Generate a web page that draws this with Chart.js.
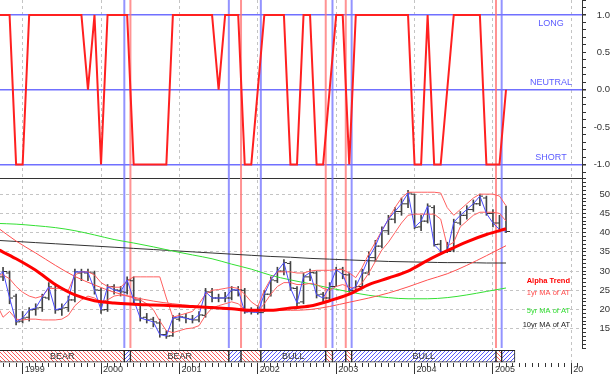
<!DOCTYPE html>
<html><head><meta charset="utf-8">
<script src="https://cdn.jsdelivr.net/npm/chart.js@4"></script>
<style>html,body{margin:0;padding:0;background:#fff}</style>
</head><body>
<canvas id="c" width="610" height="374"></canvas>
<script>
// ---------- DATA (monthly, first month below) ----------
const FIRST_MONTH = '1998-09';
const signal = [
  1, 1, 1, -1,
  -1, 1, 1, 1, 1, 1, 1, 1, 1, 1, 0, 1,
  -1, 1, 1, 1, 1, -1, -1, -1, -1, -1, -1, 1,
  1, 1, 1, 1, 1, 1, 0, 1, 1, 1, -1, -1,
  0, 1, 1, 1, 1, -1, -1, 1, 1, -1, -1, 0,
  1, 1, -1, 1, 1, 1, 1, 1, 1, 1, 1, 1,
  -1, -1, 1, -1, -1, 0, 1, 1, 1, 1, 1, -1,
  -1, -1, 0];
const closes = [
  28.3, 29.9, 23.0, 16.8,
  17.8, 19.9, 20.4, 23.2, 25.9, 19.9, 20.4, 22.5, 29.8, 29.8, 29.7, 25.1,
  19.9, 25.9, 25.1, 24.6, 27.7, 22.5, 17.8, 17.3, 16.8, 13.5, 13.1, 17.8,
  18.1, 17.7, 17.3, 18.6, 24.6, 23.0, 23.0, 23.0, 25.1, 25.1, 19.4, 19.4,
  19.2, 24.0, 27.7, 30.0, 32.2, 25.6, 21.7, 28.5, 29.6, 23.8, 23.0, 26.0,
  30.4, 29.1, 25.0, 26.0, 29.5, 33.5, 36.5, 40.5, 43.5, 45.5, 47.5, 50.3,
  41.4, 43.0, 46.9, 36.9, 35.1, 35.1, 42.7, 44.5, 46.0, 47.5, 49.5, 45.0,
  42.5, 40.8, 40.3];
const opens = [
  27.5, 28.5, 29.5, 23.5,
  17.0, 18.0, 20.0, 20.5, 23.0, 25.5, 20.0, 20.5, 22.5, 29.5, 29.5, 29.5,
  25.0, 20.0, 26.0, 25.0, 24.5, 27.5, 22.5, 18.0, 17.5, 16.5, 13.5, 13.2,
  17.5, 18.0, 17.5, 17.3, 18.5, 24.5, 23.0, 23.0, 23.0, 25.0, 25.0, 19.5,
  19.5, 19.2, 24.0, 27.5, 30.0, 32.0, 25.5, 22.0, 28.5, 29.5, 24.0, 23.0,
  26.0, 30.5, 29.0, 25.0, 26.0, 29.5, 33.5, 36.5, 40.5, 43.5, 45.5, 47.5,
  50.0, 41.5, 43.0, 46.5, 37.0, 35.0, 35.5, 42.5, 44.5, 46.0, 47.5, 49.0,
  45.0, 42.5, 41.0];
const highs = [
  30.5, 31.0, 30.0, 24.0,
  19.5, 20.5, 21.5, 24.0, 27.0, 26.5, 21.5, 23.5, 30.5, 30.5, 30.5, 30.0,
  25.5, 26.5, 26.5, 26.0, 28.5, 28.5, 23.0, 19.0, 18.0, 17.5, 14.5, 18.5,
  19.0, 19.0, 18.5, 19.5, 25.5, 25.5, 24.0, 24.5, 26.0, 26.0, 25.5, 20.5,
  21.0, 25.0, 28.5, 31.0, 33.0, 32.5, 26.0, 29.5, 30.5, 30.0, 24.5, 27.0,
  31.0, 31.0, 29.5, 27.5, 30.5, 35.0, 38.0, 41.5, 44.5, 46.5, 49.0, 51.0,
  50.0, 44.5, 47.5, 47.0, 38.0, 37.5, 43.5, 45.5, 47.0, 48.5, 50.0, 49.5,
  46.0, 44.5, 46.9];
const lows = [
  26.0, 27.5, 21.5, 16.0,
  16.5, 17.0, 18.5, 19.5, 22.5, 19.0, 18.5, 19.5, 22.0, 27.5, 27.5, 24.0,
  19.0, 19.5, 24.0, 23.5, 24.0, 21.5, 17.0, 16.5, 15.5, 12.8, 12.5, 13.0,
  17.0, 16.5, 16.5, 16.8, 18.0, 22.0, 22.0, 22.0, 22.5, 23.5, 19.0, 18.8,
  18.8, 19.5, 23.5, 27.0, 29.0, 25.0, 21.0, 21.5, 27.5, 23.0, 22.0, 22.5,
  26.0, 28.0, 24.5, 24.5, 26.0, 29.0, 32.5, 36.0, 39.5, 42.5, 44.5, 46.5,
  41.0, 40.5, 42.5, 36.5, 34.5, 34.8, 35.0, 42.0, 43.5, 45.5, 47.0, 44.5,
  41.5, 40.3, 40.0];
const upperBand = [
  29.0, 29.0, 28.0, 26.0,
  24.5, 23.5, 23.0, 23.5, 25.5, 25.5, 25.5, 25.0, 29.0, 29.8, 29.8, 29.0,
  27.0, 26.0, 25.8, 25.8, 27.5, 28.5, 28.5, 28.5, 28.5, 28.5, 23.0, 18.0,
  18.5, 19.0, 19.5, 21.5, 24.0, 25.0, 25.2, 25.5, 25.8, 25.5, 24.0, 22.0,
  20.8, 25.0, 28.0, 29.8, 29.8, 29.8, 29.5, 29.5, 30.0, 30.2, 30.2, 30.2,
  30.4, 30.4, 29.5, 28.3, 31.0, 34.5, 37.5, 40.5, 43.5, 46.5, 49.0, 50.5,
  50.5, 50.5, 50.5, 50.5, 50.3, 46.5, 44.5, 46.0, 47.5, 49.0, 50.0, 50.0,
  50.0, 49.5, 47.0];
const lowerBand = [
  21.5, 18.0, 19.5, 17.5,
  17.3, 17.5, 17.5, 17.3, 17.3, 17.3, 17.5, 18.5, 21.0, 22.5, 23.5, 23.0,
  22.0, 22.5, 23.5, 23.8, 23.5, 23.0, 22.5, 21.5, 20.0, 17.0, 14.5, 14.0,
  14.5, 15.0, 15.2, 15.8, 18.5, 20.4, 21.0, 21.5, 22.0, 21.5, 20.0, 19.5,
  19.5, 21.5, 24.0, 26.0, 27.0, 27.0, 26.5, 26.5, 26.8, 26.5, 25.5, 25.0,
  26.0, 26.5, 25.8, 25.5, 27.0, 29.5, 32.5, 35.5, 37.5, 40.0, 42.5, 44.5,
  44.8, 44.8, 44.8, 44.8, 43.5, 36.5, 37.5, 41.5, 43.0, 44.5, 45.3, 45.3,
  45.3, 45.0, 43.0];
// quarterly samples of the smooth averages
const maMonths = ['1998-09','1998-12','1999-03','1999-06','1999-09','1999-12','2000-03','2000-06','2000-09',
  '2000-12','2001-03','2001-06','2001-09','2001-12','2002-03','2002-06','2002-09','2002-12','2003-03',
  '2003-06','2003-09','2003-12','2004-03','2004-06','2004-09','2004-12','2005-03'];
const alphaTrend = [35.8, 33.2, 30.2, 26.5, 23.8, 22.3, 21.7, 21.4, 21.2, 21.0, 20.8, 20.5, 20.2, 19.8,
  19.8, 20.4, 20.9, 22.3, 24.0, 26.5, 28.2, 30.0, 32.8, 35.3, 37.6, 39.5, 41.0];
const ma1yr = [41.5, 37.8, 34.7, 31.5, 28.6, 26.4, 24.5, 23.2, 22.2, 21.5, 21.0, 20.6, 20.3, 20.0,
  19.8, 19.8, 20.0, 20.8, 21.9, 23.0, 24.3, 25.9, 27.7, 29.3, 31.5, 34.0, 36.6];
const ma5yr = [42.4, 42.2, 41.8, 41.3, 40.5, 39.4, 38.2, 37.3, 36.3, 35.2, 34.2, 33.2, 31.8, 30.5,
  28.9, 27.7, 26.7, 25.6, 24.6, 23.7, 23.1, 22.8, 22.8, 23.1, 23.8, 24.7, 25.6];
const ma10yr = [38.0, 37.7, 37.4, 37.1, 36.8, 36.5, 36.2, 35.9, 35.6, 35.3, 35.0, 34.7, 34.4, 34.1,
  33.8, 33.6, 33.3, 33.1, 32.9, 32.7, 32.5, 32.4, 32.3, 32.2, 32.2, 32.1, 32.1];
// regime changes
const regimeStart = '1998-09-01';
const regimeStartType = 'BEAR';
const regimeDates = ['2000-04-18','2000-05-16','2001-08-18','2001-10-14','2002-01-15','2002-11-13',
  '2002-12-14','2003-02-15','2003-03-12','2005-01-15','2005-02-11'];
const regimeTypes = ['BULL','BEAR','BULL','BEAR','BULL','BEAR','BULL','BEAR','BULL','BEAR','BULL'];
const regimeEnd = '2005-04-12';
// axis texts
const yearLabels = ['1999','2000','2001','2002','2003','2004','2005','20'];
const levelValues = [1, 0, -1];
const levelNames = ['LONG','NEUTRAL','SHORT'];
const legendNames = ['Alpha Trend','1yr MA of AT','5yr MA of AT','10yr MA of AT'];
const X_RANGE = ['1998-09-17','2006-02-20'];
const SIG_RANGE = [-1.18, 1.2];
const PRICE_RANGE = [10, 54.2];

// ---------- helpers ----------
function monthIndex(s){ const p = s.split('-').map(Number); return (p[0]-1999)*12 + (p[1]-1) + (p[2] ? (p[2]-1)/30 : 0); }
const m0 = monthIndex(FIRST_MONTH);
const mx = i => m0 + i;
const FONT = "'Liberation Sans', Arial, sans-serif";
const ctx0 = document.getElementById('c').getContext('2d');

function hatch(color, dir){
  const c = document.createElement('canvas'); c.width = 4; c.height = 4;
  const g = c.getContext('2d'); g.fillStyle = '#fff'; g.fillRect(0,0,4,4);
  g.strokeStyle = color; g.lineWidth = 1; g.beginPath();
  if (dir > 0) { g.moveTo(-1,5); g.lineTo(5,-1); } else { g.moveTo(-1,-1); g.lineTo(5,5); }
  g.stroke(); return ctx0.createPattern(c,'repeat');
}
const bearPat = hatch('#ff5a5a', -1), bullPat = hatch('#5a5aff', 1);
function tickImg(side){
  const c = document.createElement('canvas'); c.width = 7; c.height = 3;
  const g = c.getContext('2d'); g.fillStyle = '#333';
  if (side < 0) g.fillRect(0,1,3,1); else g.fillRect(4,1,3,1); return c;
}

// regime segments
const segs = [];
{ let s = monthIndex(regimeStart), t = regimeStartType;
  regimeDates.forEach((d,i) => { const e = monthIndex(d); segs.push({a:s,b:e,t}); s = e; t = regimeTypes[i]; });
  segs.push({a:s,b:monthIndex(regimeEnd),t}); }

function vlines(type, lo, hi){
  const pts = [];
  regimeDates.forEach((d,i) => { if (regimeTypes[i] === type) { const m = monthIndex(d); pts.push({x:m,y:lo},{x:m,y:hi},{x:m,y:null}); } });
  return pts;
}
const monthly = arr => arr.map((v,i) => ({x: mx(i), y: v}));
const quarterly = arr => arr.map((v,i) => ({x: monthIndex(maMonths[i]), y: v}));

const line = (o) => Object.assign({type:'line', pointRadius:0, borderWidth:1, tension:0, fill:false, xAxisID:'x'}, o);

const datasets = [
  line({data: vlines('BULL', SIG_RANGE[0], SIG_RANGE[1]), yAxisID:'ySig', borderColor:'rgba(120,120,255,0.8)', borderWidth:2, order:30}),
  line({data: vlines('BEAR', SIG_RANGE[0], SIG_RANGE[1]), yAxisID:'ySig', borderColor:'rgba(255,120,120,0.8)', borderWidth:2, order:30}),
  line({data: vlines('BULL', PRICE_RANGE[0], PRICE_RANGE[1]), yAxisID:'yPrice', borderColor:'rgba(120,120,255,0.8)', borderWidth:2, order:30}),
  line({data: vlines('BEAR', PRICE_RANGE[0], PRICE_RANGE[1]), yAxisID:'yPrice', borderColor:'rgba(255,120,120,0.8)', borderWidth:2, order:30}),
  line({data: monthly(signal), yAxisID:'ySig', borderColor:'#ff2020', borderWidth:2, order:1}),
  {type:'bar', data: closes.map((_,i) => ({x: mx(i), y: [lows[i], highs[i]]})), xAxisID:'x', yAxisID:'yPrice',
    backgroundColor:'#444', barThickness:1, grouped:false, order:12},
  line({data: monthly(opens), yAxisID:'yPrice', showLine:false, pointRadius:3, pointStyle: tickImg(-1), order:11}),
  line({data: monthly(closes), yAxisID:'yPrice', showLine:false, pointRadius:3, pointStyle: tickImg(1), order:11}),
  line({data: quarterly(ma10yr), yAxisID:'yPrice', borderColor:'#333', cubicInterpolationMode:'monotone', order:9}),
  line({data: quarterly(ma5yr), yAxisID:'yPrice', borderColor:'#33e033', cubicInterpolationMode:'monotone', order:8}),
  line({data: quarterly(ma1yr), yAxisID:'yPrice', borderColor:'#ff5050', cubicInterpolationMode:'monotone', order:7}),
  line({data: monthly(upperBand), yAxisID:'yPrice', borderColor:'#ff6060', order:6}),
  line({data: monthly(lowerBand), yAxisID:'yPrice', borderColor:'#ff6060', order:6}),
  line({data: monthly(closes), yAxisID:'yPrice', borderColor:'#4a4aff', order:5}),
  line({data: quarterly(alphaTrend), yAxisID:'yPrice', borderColor:'#ff0000', borderWidth:3, cubicInterpolationMode:'monotone', order:4}),
  {type:'bar', indexAxis:'y', xAxisID:'x', yAxisID:'yBand',
    data: segs.map(s => ({x:[s.a, s.b], y:0.4})),
    backgroundColor: segs.map(s => s.t === 'BULL' ? bullPat : bearPat),
    borderColor:'#222', borderWidth:1, borderSkipped:false, barThickness:12, grouped:false, order:20}
];

const isInt = v => Math.abs(v - Math.round(v)) < 1e-6;
const noPad = s => { s.paddingTop = 0; s.paddingBottom = 0; s.paddingLeft = 0; s.paddingRight = 0; };

const textPlugin = {
  id:'texts',
  afterDatasetsDraw(chart){
    const {ctx, chartArea, scales:{x, ySig, yPrice, yBand}} = chart;
    ctx.save();
    // level names
    ctx.font = '9px ' + FONT; ctx.fillStyle = '#5c5cff'; ctx.textAlign = 'center';
    levelValues.forEach((v,i) => {
      const py = ySig.getPixelForValue(v);
      if (v === Math.max(...levelValues)) { ctx.textBaseline = 'top'; ctx.fillText(levelNames[i], chartArea.right - 31, py + 4); }
      else { ctx.textBaseline = 'bottom'; ctx.fillText(levelNames[i], chartArea.right - 31, py - 3); }
    });
    // legend
    const cols = ['#ff0000','#ff4a4a','#33dd33','#222'];
    const offs = [103, 115, 133, 147];
    ctx.textAlign = 'right'; ctx.textBaseline = 'middle';
    legendNames.forEach((n,i) => {
      ctx.font = (i === 0 ? 'bold ' : '') + '7.5px ' + FONT; ctx.fillStyle = cols[i];
      ctx.fillText(n, chartArea.right - 12, yPrice.top + offs[i]);
    });
    // band names
    ctx.font = '9px ' + FONT; ctx.fillStyle = '#333'; ctx.textAlign = 'center';
    const by = yBand.getPixelForValue(0.4);
    segs.forEach(s => {
      const a = x.getPixelForValue(s.a), b = x.getPixelForValue(s.b);
      const aa = Math.max(a, chartArea.left);
      if (b - aa > 40) ctx.fillText(s.t, (aa + b) / 2, by + 0.5);
    });
    ctx.restore();
  }
};

new Chart(ctx0, {
  type:'line',
  data:{datasets},
  options:{
    responsive:false, animation:false, events:[],
    layout:{padding:0, autoPadding:false},
    plugins:{legend:{display:false}, tooltip:{enabled:false}},
    scales:{
      x:{type:'linear', position:'bottom', min: monthIndex(X_RANGE[0]), max: monthIndex(X_RANGE[1]), offset:false,
        afterBuildTicks: s => { const t = []; for (let m = Math.ceil(s.min); m <= s.max; m++) t.push({value:m}); s.ticks = t; },
        afterFit: s => { s.height = 11; noPad(s); },
        border:{display:false, dash:[3,3]},
        grid:{offset:false, drawOnChartArea:true, tickLength:12,
          color: c => (c.tick && isInt(c.tick.value/12)) ? '#c4c4c4' : 'rgba(0,0,0,0)',
          tickColor:'#333', tickWidth:1,
          tickBorderDash: c => (c.tick && isInt(c.tick.value/12)) ? [] : [4, 30]},
        ticks:{autoSkip:false, maxRotation:0, align:'start', labelOffset:2, padding:-11,
          font:{size:9, family:FONT}, color:'#333',
          callback: v => isInt(v/12) ? (yearLabels[Math.round(v/12)] ?? '') : ''}
      },
      ySig:{type:'linear', position:'right', stack:'p', stackWeight:178, min:SIG_RANGE[0], max:SIG_RANGE[1],
        afterBuildTicks: s => { const t = [{value:SIG_RANGE[0]}]; for (let k = -11; k <= 12; k++) t.push({value:k/10}); s.ticks = t; },
        afterFit: s => { s.width = 28; noPad(s); },
        border:{display:true, color:'#333'},
        grid:{tickLength:4, tickColor:'#333',
          color: c => !c.tick ? 'transparent' : (c.tick.value === SIG_RANGE[0] ? '#333' : (isInt(c.tick.value) ? '#7070ff' : 'rgba(0,0,0,0)')),
          lineWidth: c => (c.tick && isInt(c.tick.value) && c.tick.value !== SIG_RANGE[0]) ? 1.5 : 1},
        ticks:{autoSkip:false, crossAlign:'far', padding:6, font:{size:9.5, family:FONT}, color:'#333',
          callback: v => (isInt(v*2) && v !== SIG_RANGE[0]) ? v.toFixed(1) : ''}
      },
      yPrice:{type:'linear', position:'right', stack:'p', stackWeight:170, min:PRICE_RANGE[0], max:PRICE_RANGE[1],
        afterBuildTicks: s => { const t = []; for (let k = 10; k <= 54; k++) t.push({value:k}); s.ticks = t; },
        afterFit: s => { s.width = 28; noPad(s); },
        border:{display:true, color:'#333', dash:[3,3]},
        grid:{tickLength:4, tickColor:'#333',
          color: c => (c.tick && c.tick.value % 5 === 0 && c.tick.value > 10) ? '#c4c4c4' : 'rgba(0,0,0,0)'},
        ticks:{autoSkip:false, crossAlign:'far', padding:11, font:{size:9.5, family:FONT}, color:'#333',
          callback: v => (v % 5 === 0 && v > 10) ? String(v) : ''}
      },
      yBand:{type:'linear', position:'right', stack:'p', stackWeight:15, min:0, max:1, display:false,
        afterFit: s => { s.width = 28; noPad(s); }}
    }
  },
  plugins:[textPlugin]
});
</script>
</body></html>
